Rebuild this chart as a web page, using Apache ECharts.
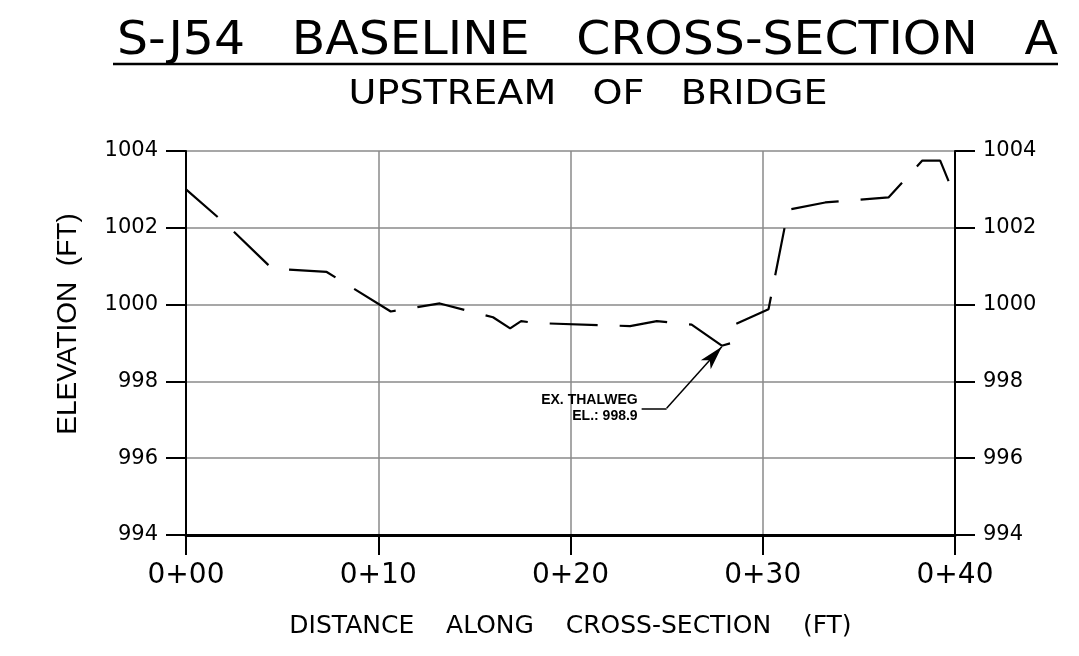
<!DOCTYPE html>
<html>
<head>
<meta charset="utf-8">
<script src="https://cdn.jsdelivr.net/npm/echarts@6/dist/echarts.min.js"></script>
<style>
html, body { margin: 0; padding: 0; background: #fff; }
#chart-panel { width: 1079px; height: 656px; }
</style>
</head>
<body>
<div id="chart-panel"></div>
<script>
// surveyed ground line, distance (ft) vs elevation (ft)
var distance = [0, 2.13, 4.47, 7.32, 10.65, 13.2, 15.97, 16.86, 17.43, 18.2, 23.1, 24.49, 26.3,
    27.87, 28.3, 28.45, 30.3, 31.32, 33.25, 36.54, 38.3, 39.23, 40];
var elevation = [1003.0, 1002.07, 1000.94, 1000.85, 999.82, 1000.03, 999.67, 999.38, 999.57, 999.52, 999.44, 999.57, 999.48,
    998.93, 998.99, 999.46, 999.88, 1002.47, 1002.66, 1002.79, 1003.75, 1003.75, 1002.81];
var stationLabels = ['0+00', '0+10', '0+20', '0+30', '0+40'];
var elevationTicks = [994, 996, 998, 1000, 1002, 1004];

// thalweg callout
var noteTip = [27.87, 998.9];
var noteElbow = [25.0, 997.3];
var noteEnd = [23.7, 997.3];
var noteText = ['EX. THALWEG', 'EL.: 998.9'];

var titleText = 'S-J54   BASELINE   CROSS-SECTION   A';
var subtitleText = 'UPSTREAM   OF   BRIDGE';

var myChart = echarts.init(document.getElementById('chart-panel'));

var groundData = distance.map(function (d, i) {
    return [d, elevation[i]];
});

var yMin = elevationTicks[0];
var yMax = elevationTicks[elevationTicks.length - 1];

function yAxisCfg(pos, grid) {
    return {
        type: 'value',
        position: pos,
        min: yMin,
        max: yMax,
        interval: elevationTicks[1] - elevationTicks[0],
        axisLine: { show: true, lineStyle: { color: '#000', width: 2 } },
        axisTick: { show: true, inside: false, length: 20, lineStyle: { color: '#000', width: 2 } },
        axisLabel: {
            margin: 28,
            color: '#000',
            fontFamily: 'DejaVu Sans',
            fontSize: 21,
            formatter: function (v) { return String(v); }
        },
        splitLine: {
            show: grid,
            showMinLine: false,
            lineStyle: { color: '#8a8a8a', width: 1.5 }
        }
    };
}

var leftAxis = yAxisCfg('left', true);
leftAxis.name = 'ELEVATION  (FT)';
leftAxis.nameLocation = 'middle';
leftAxis.nameRotate = 90;
leftAxis.nameGap = 104;
leftAxis.nameTextStyle = {
    color: '#000',
    fontFamily: 'Liberation Sans',
    fontSize: 28,
    padding: [0, 0, 0, 38]
};

myChart.setOption({
    backgroundColor: '#fff',
    animation: false,
    grid: { left: 186, right: 124, top: 151, bottom: 121 },
    graphic: [
        {
            type: 'text',
            x: 587.5,
            y: 41.5,
            scaleX: 1.04,
            style: {
                text: titleText,
                align: 'center',
                verticalAlign: 'middle',
                fill: '#000',
                font: '47px "DejaVu Sans"'
            }
        },
        {
            type: 'line',
            shape: { x1: 113, y1: 64, x2: 1058, y2: 64 },
            style: { stroke: '#000', lineWidth: 2.5 }
        },
        {
            type: 'text',
            x: 588,
            y: 95,
            scaleX: 1.12,
            style: {
                text: subtitleText,
                align: 'center',
                verticalAlign: 'middle',
                fill: '#000',
                font: '34px "DejaVu Sans"'
            }
        }
    ],
    xAxis: {
        type: 'value',
        min: 0,
        max: 40,
        interval: 10,
        name: 'DISTANCE    ALONG    CROSS-SECTION    (FT)',
        nameLocation: 'middle',
        nameGap: 79,
        nameTextStyle: { color: '#000', fontFamily: 'DejaVu Sans', fontSize: 25 },
        axisLine: { show: true, lineStyle: { color: '#000', width: 3 } },
        axisTick: { show: true, inside: false, length: 20, lineStyle: { color: '#000', width: 2 } },
        axisLabel: {
            margin: 27,
            color: '#000',
            fontFamily: 'DejaVu Sans',
            fontSize: 28,
            formatter: function (v) { return stationLabels[Math.round(v / 10)]; }
        },
        splitLine: {
            show: true,
            showMinLine: false,
            showMaxLine: false,
            lineStyle: { color: '#8a8a8a', width: 1.5 }
        }
    },
    yAxis: [leftAxis, yAxisCfg('right', false)],
    series: [
        {
            type: 'line',
            data: groundData,
            showSymbol: false,
            symbol: 'none',
            silent: true,
            lineStyle: { color: '#000', width: 2.2, type: [48, 22], dashOffset: 6 },
            markLine: {
                silent: true,
                animation: false,
                symbol: ['none', 'none'],
                lineStyle: { color: '#000', width: 1.5, type: 'solid' },
                label: { show: false },
                emphasis: { disabled: true },
                data: [
                    [
                        { coord: noteElbow, symbol: 'none' },
                        { coord: noteTip, symbol: 'arrow', symbolSize: [10, 24] }
                    ],
                    [
                        {
                            coord: noteElbow,
                            label: {
                                show: true,
                                position: 'end',
                                distance: 4,
                                formatter: noteText.join('\n'),
                                color: '#000',
                                fontFamily: 'Liberation Sans',
                                fontWeight: 'bold',
                                fontSize: 14,
                                lineHeight: 16
                            }
                        },
                        { coord: noteEnd }
                    ]
                ]
            }
        }
    ]
});
</script>
</body>
</html>
